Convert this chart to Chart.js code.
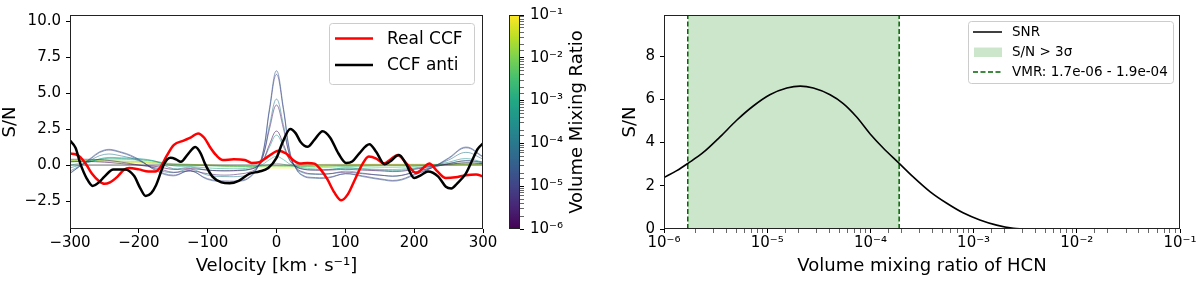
<!DOCTYPE html>
<html>
<head>
<meta charset="utf-8">
<script src="https://cdn.jsdelivr.net/npm/chart.js@4.4.1/dist/chart.umd.min.js"></script>
<style>
body { margin: 0; background: #fff; }
#wrap { position: relative; width: 1200px; height: 281px; }
canvas { position: absolute; top: 0; }
</style>
</head>
<body>
<div id="wrap">
<canvas id="ccf" width="500" height="281" style="left:0px"></canvas>
<canvas id="cbar" width="100" height="281" style="left:500px"></canvas>
<canvas id="snr" width="600" height="281" style="left:600px"></canvas>
</div>
<script>
// ---- left panel: CCFs ----
var velTicks = [-300, -200, -100, 0, 100, 200, 300];
var snTicks = [-2.5, 0, 2.5, 5, 7.5, 10];

var realVel = [-300,-292,-285,-276,-268,-258,-250,-242,-231,-222,-214,-200,-186,-176,-168,-160,-149,-135,-125,-114,-105,-96,-88,-78,-62,-46,-36,-25,-12,3,14,24,34,45,55,64,74,84,94,104,114,124,134,145,156,166,176,189,203,213,222,233,246,260,275,290,300];
var realSN = [0.8,0.75,0.55,0.0,-0.6,-1.1,-1.3,-1.2,-0.8,-0.35,-0.2,-0.3,-0.45,-0.45,-0.1,0.6,1.4,1.7,1.9,2.2,1.9,1.2,0.7,0.35,0.4,0.35,0.15,0.2,0.6,1.0,0.8,0.35,0.1,0.15,0.1,-0.3,-1.0,-1.9,-2.45,-2.0,-1.0,0.0,0.6,0.45,0.1,0.4,0.7,0.1,-0.55,-0.2,0.1,-0.4,-0.9,-0.85,-0.7,-0.65,-0.8];

var antiVel = [-300,-292,-285,-276,-267,-258,-250,-237,-220,-207,-198,-190,-182,-175,-163,-154,-146,-139,-128,-118,-110,-104,-93,-80,-68,-55,-39,-25,-12,0,9,20,28,35,45,55,67,78,90,101,110,120,135,145,157,165,178,188,200,210,220,235,246,254,262,275,285,292,300];
var antiSN = [1.7,1.2,0.1,-0.9,-1.45,-1.2,-0.8,-0.3,-0.3,-0.75,-1.6,-2.15,-1.95,-1.4,0.1,0.5,0.4,0.23,0.8,1.25,0.8,0.1,-0.8,-1.2,-1.27,-1.1,-0.6,-0.45,-0.2,0.5,1.6,2.5,2.2,1.6,1.27,1.75,2.35,1.9,0.8,0.15,0.25,0.8,1.45,0.9,0.05,0.25,0.7,0.1,-0.9,-0.7,-0.45,-0.8,-1.5,-1.62,-1.3,-0.6,0.4,1.1,1.5];

// model CCFs, one per injected VMR
var modelVel = [-300,-275,-250,-225,-200,-175,-150,-125,-100,-75,-50,-40,-30,-20,-10,0,10,20,30,40,50,75,100,125,150,175,200,225,250,275,300];
var modelVMR = [1e-6, 3e-6, 1e-5, 3e-5, 1e-4, 3e-4, 1e-3, 3e-3, 1e-2, 3e-2, 1e-1];
var modelSN = [
  [0.25,0.25,0.2,0.1,0.0,-0.1,-0.3,-0.25,-0.35,-0.4,-0.35,-0.3,-0.15,0.3,1.45,2.36,1.45,0.3,-0.15,-0.3,-0.35,-0.35,-0.3,-0.35,-0.4,-0.45,-0.3,-0.1,0.05,0.15,0.1],
  [0.4,0.4,0.35,0.2,0.0,-0.2,-0.5,-0.4,-0.6,-0.7,-0.6,-0.5,-0.25,0.55,2.55,4.17,2.55,0.55,-0.25,-0.5,-0.6,-0.6,-0.5,-0.6,-0.7,-0.75,-0.5,-0.2,0.1,0.3,0.2],
  [-0.55,0.25,1.0,0.85,0.35,-0.35,-0.7,-0.4,-0.95,-1.1,-1.05,-0.85,-0.35,0.75,3.85,6.3,3.85,0.75,-0.35,-0.75,-0.85,-0.85,-0.6,-0.75,-0.95,-1.05,-0.65,-0.2,0.45,1.2,0.55],
  [-0.6,0.3,1.05,0.9,0.4,-0.4,-0.75,-0.4,-1.0,-1.15,-1.1,-0.9,-0.4,0.8,4.0,6.55,4.0,0.8,-0.4,-0.8,-0.9,-0.9,-0.6,-0.8,-1.0,-1.1,-0.7,-0.2,0.5,1.25,0.6],
  [-0.42,0.21,0.74,0.63,0.3,-0.28,-0.53,-0.28,-0.7,-0.8,-0.77,-0.63,-0.3,0.55,2.8,4.58,2.8,0.55,-0.3,-0.56,-0.63,-0.63,-0.42,-0.56,-0.7,-0.77,-0.49,-0.14,0.35,0.88,0.42],
  [-0.2,0.15,0.5,0.5,0.45,0.25,-0.25,-0.15,-0.35,-0.4,-0.38,-0.32,-0.15,0.25,1.27,2.08,1.27,0.25,-0.15,-0.28,-0.32,-0.32,-0.21,-0.28,-0.35,-0.38,-0.25,-0.05,0.2,0.45,0.2],
  [0.0,0.2,0.45,0.45,0.4,0.25,-0.05,-0.1,-0.2,-0.25,-0.25,-0.2,-0.12,0.05,0.38,0.6,0.38,0.05,-0.12,-0.2,-0.25,-0.3,-0.2,-0.25,-0.3,-0.3,-0.2,-0.05,0.1,0.3,0.15],
  [0.2,0.3,0.4,0.4,0.35,0.25,0.05,0.0,-0.05,-0.1,-0.1,-0.1,-0.1,-0.05,0.05,0.12,0.05,-0.05,-0.1,-0.1,-0.12,-0.15,-0.1,-0.12,-0.15,-0.15,-0.1,0.0,0.05,0.15,0.1],
  [0.3,0.3,0.3,0.28,0.25,0.18,0.1,0.05,0.0,-0.05,-0.1,-0.1,-0.1,-0.1,-0.1,-0.08,-0.1,-0.1,-0.1,-0.1,-0.1,-0.08,-0.05,-0.05,-0.05,-0.05,-0.05,0.0,0.0,0.05,0.05],
  [0.3,0.28,0.25,0.2,0.15,0.1,0.05,0.02,0.0,-0.02,-0.05,-0.05,-0.05,-0.05,-0.05,-0.05,-0.05,-0.03,0.0,0.02,0.03,0.05,0.05,0.05,0.05,0.05,0.05,0.05,0.05,0.05,0.05],
  [0.35,0.32,0.3,0.25,0.2,0.15,0.1,0.05,0.0,-0.08,-0.15,-0.17,-0.18,-0.19,-0.2,-0.2,-0.2,-0.2,-0.19,-0.17,-0.15,-0.08,0.0,0.03,0.05,0.05,0.05,0.05,0.05,0.05,0.05]
];

// ---- colorbar ----
var cbarMin = 1e-6, cbarMax = 1e-1;

// ---- right panel: SNR vs VMR ----
var snrVMR = [1e-6,1.33e-6,1.72e-6,2.4e-6,3.49e-6,5.06e-6,7.33e-6,1.06e-5,1.55e-5,2.09e-5,2.8e-5,4.07e-5,5.46e-5,7.36e-5,9.9e-5,1.33e-4,1.89e-4,2.6e-4,3.8e-4,5.5e-4,7.9e-4,1.15e-3,1.67e-3,2.43e-3,3.0e-3];
var snrVal = [2.38,2.7,3.05,3.54,4.26,5.03,5.69,6.21,6.52,6.61,6.52,6.21,5.8,5.18,4.41,3.75,3.05,2.41,1.72,1.19,0.75,0.42,0.18,0.03,0.0];
var snrTicks = [0, 2, 4, 6, 8];
var spanLo = 1.7e-6, spanHi = 1.9e-4;

var viridis = ['#440154','#482475','#414487','#355f8d','#2a788e','#21918c','#22a884','#44bf70','#7ad151','#bddf26','#fde725'];

function hexRgb(h) {
    return [parseInt(h.substr(1, 2), 16), parseInt(h.substr(3, 2), 16), parseInt(h.substr(5, 2), 16)];
}

function viridisColor(vmr, alpha) {
    var t = (Math.log10(vmr) - Math.log10(cbarMin)) / (Math.log10(cbarMax) - Math.log10(cbarMin));
    t = Math.max(0, Math.min(1, t)) * 10;
    var i = Math.min(9, Math.floor(t));
    var f = t - i;
    var a = hexRgb(viridis[i]), b = hexRgb(viridis[i + 1]);
    var c = a.map(function (v, k) { return Math.round(v + (b[k] - v) * f); });
    return 'rgba(' + c[0] + ',' + c[1] + ',' + c[2] + ',' + alpha + ')';
}

var supChars = {'-': '\u207b', '0': '\u2070', '1': '\u00b9', '2': '\u00b2', '3': '\u00b3', '4': '\u2074', '5': '\u2075', '6': '\u2076', '7': '\u2077', '8': '\u2078', '9': '\u2079'};

function isPow10(v) {
    var e = Math.log10(v);
    return Math.abs(e - Math.round(e)) < 1e-6;
}

function pow10Label(v) {
    if (!isPow10(v)) return '';
    return '10' + String(Math.round(Math.log10(v))).split('').map(function (c) { return supChars[c]; }).join('');
}

function xy(xs, ys) {
    return xs.map(function (x, i) { return {x: x, y: ys[i]}; });
}

Chart.defaults.font.family = 'DejaVu Sans';
Chart.defaults.color = '#000';

var frame = {
    id: 'frame',
    afterDatasetsDraw: function (chart) {
        var ctx = chart.ctx, a = chart.chartArea;
        var l = Math.round(a.left) + 0.5, t = Math.round(a.top) + 0.5;
        var r = Math.round(a.right) - 0.5, b = Math.round(a.bottom) - 0.5;
        ctx.save();
        ctx.strokeStyle = '#222';
        ctx.lineWidth = 1;
        ctx.strokeRect(l, t, r - l, b - t);
        ctx.restore();
    }
};

function legendBox(ctx, x, y, w, h) {
    ctx.save();
    ctx.fillStyle = 'rgba(255,255,255,0.8)';
    ctx.strokeStyle = '#cccccc';
    ctx.lineWidth = 1;
    ctx.beginPath();
    ctx.roundRect(x + 0.5, y + 0.5, w, h, 3);
    ctx.fill();
    ctx.stroke();
    ctx.restore();
}

var legendLeft = {
    id: 'legendLeft',
    afterDraw: function (chart) {
        var ctx = chart.ctx, a = chart.chartArea;
        var w = 145, h = 61;
        var x = Math.round(a.right) - 9 - w, y = Math.round(a.top) + 8;
        legendBox(ctx, x, y, w, h);
        var rows = [['Real CCF', '#ff0000'], ['CCF anti', '#000000']];
        ctx.save();
        ctx.font = '17px "DejaVu Sans"';
        ctx.textBaseline = 'middle';
        rows.forEach(function (r, i) {
            var ry = y + 15.5 + i * 26.5;
            ctx.strokeStyle = r[1];
            ctx.lineWidth = 2.5;
            ctx.beginPath();
            ctx.moveTo(x + 6, ry);
            ctx.lineTo(x + 44, ry);
            ctx.stroke();
            ctx.fillStyle = '#000';
            ctx.fillText(r[0], x + 58, ry + 1);
        });
        ctx.restore();
    }
};

var legendRight = {
    id: 'legendRight',
    afterDraw: function (chart) {
        var ctx = chart.ctx, a = chart.chartArea;
        var w = 205, h = 62;
        var x = Math.round(a.right) - 7 - w, y = Math.round(a.top) + 6;
        legendBox(ctx, x, y, w, h);
        ctx.save();
        ctx.font = '13.5px "DejaVu Sans"';
        ctx.textBaseline = 'middle';
        ctx.fillStyle = '#000';
        // SNR line
        ctx.strokeStyle = '#000';
        ctx.lineWidth = 1.5;
        ctx.beginPath();
        ctx.moveTo(x + 5, y + 11);
        ctx.lineTo(x + 34, y + 11);
        ctx.stroke();
        ctx.fillText('SNR', x + 44, y + 11);
        // span patch
        ctx.fillStyle = 'rgba(0,128,0,0.2)';
        ctx.fillRect(x + 6, y + 26.5, 28, 9.5);
        ctx.fillStyle = '#000';
        ctx.fillText('S/N > 3\u03c3', x + 44, y + 31.5);
        // dashed
        ctx.strokeStyle = '#006400';
        ctx.setLineDash([5, 2.5]);
        ctx.beginPath();
        ctx.moveTo(x + 5, y + 51);
        ctx.lineTo(x + 34, y + 51);
        ctx.stroke();
        ctx.setLineDash([]);
        ctx.fillText('VMR: 1.7e-06 - 1.9e-04', x + 44, y + 51);
        ctx.restore();
    }
};

var cbarFill = {
    id: 'cbarFill',
    beforeDatasetsDraw: function (chart) {
        var ctx = chart.ctx, a = chart.chartArea;
        var g = ctx.createLinearGradient(0, a.bottom, 0, a.top);
        viridis.forEach(function (c, i) { g.addColorStop(i / 10, c); });
        ctx.save();
        ctx.fillStyle = g;
        ctx.fillRect(a.left, a.top, a.right - a.left, a.bottom - a.top);
        ctx.restore();
    }
};

var cbarTitle = {
    id: 'cbarTitle',
    afterDraw: function (chart) {
        var ctx = chart.ctx, a = chart.chartArea;
        ctx.save();
        ctx.translate(77, (a.top + a.bottom) / 2);
        ctx.rotate(-Math.PI / 2);
        ctx.font = '18px "DejaVu Sans"';
        ctx.fillStyle = '#000';
        ctx.textAlign = 'center';
        ctx.textBaseline = 'middle';
        ctx.fillText('Volume Mixing Ratio', 0, 0);
        ctx.restore();
    }
};

function tickGrid() {
    return {
        drawOnChartArea: false,
        tickLength: 4,
        tickColor: '#000',
        tickWidth: function (c) { return c.tick && !isPow10(Math.abs(c.tick.value) || 1) && c.scale.type === 'logarithmic' ? 0.6 : 1; }
    };
}

// left panel datasets
var ccfSets = [
    {data: xy(antiVel, antiSN), borderColor: '#000', borderWidth: 2.5, cubicInterpolationMode: 'monotone'},
    {data: xy(realVel, realSN), borderColor: '#ff0000', borderWidth: 2.5, cubicInterpolationMode: 'monotone'},
    {data: xy([-300, 300], [0, 0]), borderColor: 'rgba(70,70,70,0.8)', borderWidth: 1, tension: 0}
];
modelVMR.forEach(function (v, i) {
    ccfSets.push({data: xy(modelVel, modelSN[i]), borderColor: viridisColor(v, 0.55), borderWidth: 1, tension: 0.4});
});

new Chart(document.getElementById('ccf'), {
    type: 'line',
    data: {datasets: ccfSets},
    options: {
        responsive: false,
        animation: false,
        layout: {padding: {left: 0, right: 17, top: 15, bottom: 0}},
        plugins: {legend: {display: false}, tooltip: {enabled: false}},
        elements: {point: {radius: 0}},
        scales: {
            x: {
                type: 'linear', min: -300, max: 300,
                afterBuildTicks: function (ax) { ax.ticks = velTicks.map(function (v) { return {value: v}; }); },
                afterFit: function (ax) { ax.height = 52; },
                grid: tickGrid(), border: {display: false},
                ticks: {font: {size: 15}, padding: 1, maxRotation: 0, callback: function (v) { return String(v).replace('-', '\u2212'); }},
                title: {display: true, text: 'Velocity [km \u00b7 s\u207b\u00b9]', font: {size: 18}, padding: {top: 0, bottom: 4}}
            },
            y: {
                min: -4.44, max: 10.42,
                afterBuildTicks: function (ax) { ax.ticks = snTicks.map(function (v) { return {value: v}; }); },
                afterFit: function (ax) { ax.width = 70; },
                grid: tickGrid(), border: {display: false},
                ticks: {font: {size: 15}, padding: 5, callback: function (v) { return v.toFixed(1).replace('-', '\u2212'); }},
                title: {display: true, text: 'S/N', font: {size: 18}, padding: {top: 0, bottom: 0}}
            }
        }
    },
    plugins: [frame, legendLeft]
});

new Chart(document.getElementById('cbar'), {
    type: 'scatter',
    data: {datasets: []},
    options: {
        responsive: false,
        animation: false,
        layout: {padding: {left: 9, right: 0, top: 15, bottom: 52}},
        plugins: {legend: {display: false}, tooltip: {enabled: false}},
        scales: {
            x: {display: false, min: 0, max: 1},
            y: {
                type: 'logarithmic', position: 'right', min: cbarMin, max: cbarMax,
                afterFit: function (ax) { ax.width = 80; },
                grid: tickGrid(), border: {display: false},
                ticks: {font: {size: 15}, padding: 6, autoSkip: false, callback: pow10Label}
            }
        }
    },
    plugins: [cbarFill, frame, cbarTitle]
});

new Chart(document.getElementById('snr'), {
    type: 'line',
    data: {
        datasets: [
            {data: xy(snrVMR, snrVal), borderColor: '#000', borderWidth: 1.6, cubicInterpolationMode: 'monotone'},
            {data: xy([spanLo, spanLo], [0, 9.9]), borderColor: '#006400', borderWidth: 1.5, borderDash: [5, 2.5]},
            {data: xy([spanHi, spanHi], [0, 9.9]), borderColor: '#006400', borderWidth: 1.5, borderDash: [5, 2.5]},
            {data: xy([spanLo, spanHi], [9.9, 9.9]), borderWidth: 0, fill: 'start', backgroundColor: 'rgba(0,128,0,0.2)'}
        ]
    },
    options: {
        responsive: false,
        animation: false,
        layout: {padding: {left: 20, right: 20, top: 15, bottom: 0}},
        plugins: {legend: {display: false}, tooltip: {enabled: false}},
        elements: {point: {radius: 0}},
        scales: {
            x: {
                type: 'logarithmic', min: 1e-6, max: 1e-1,
                afterFit: function (ax) { ax.height = 52; },
                grid: tickGrid(), border: {display: false},
                ticks: {font: {size: 15}, padding: 1, maxRotation: 0, autoSkip: false, callback: pow10Label},
                title: {display: true, text: 'Volume mixing ratio of HCN', font: {size: 18}, padding: {top: 0, bottom: 4}}
            },
            y: {
                min: 0, max: 9.9,
                afterBuildTicks: function (ax) { ax.ticks = snrTicks.map(function (v) { return {value: v}; }); },
                afterFit: function (ax) { ax.width = 44; },
                grid: tickGrid(), border: {display: false},
                ticks: {font: {size: 15}, padding: 5},
                title: {display: true, text: 'S/N', font: {size: 18}, padding: {top: 0, bottom: 0}}
            }
        }
    },
    plugins: [frame, legendRight]
});
</script>
</body>
</html>
